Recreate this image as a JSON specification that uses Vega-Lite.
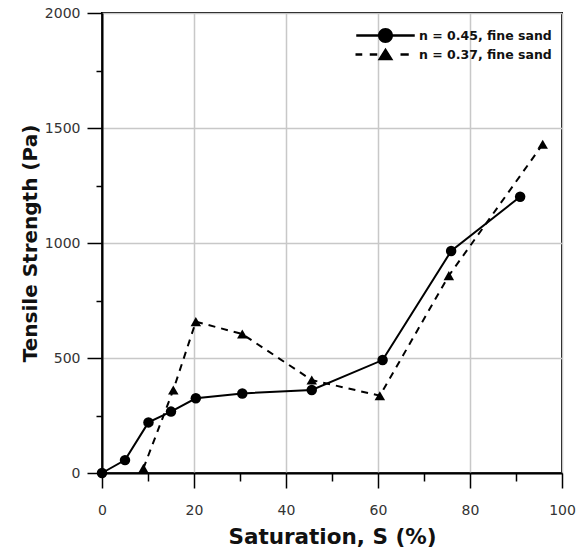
{
  "$schema": "https://vega.github.io/schema/vega-lite/v6.json",
  "autosize": {"type": "none"},
  "padding": {"left": 102, "top": 13, "right": 22, "bottom": 85},
  "width": 460,
  "height": 460,
  "background": "white",
  "config": {
    "view": {"stroke": "black", "strokeWidth": 2},
    "font": "DejaVu Sans"
  },
  "data": {
    "values": [
      {"S": 0, "T": 0, "series": "n = 0.45, fine sand"},
      {"S": 5, "T": 56, "series": "n = 0.45, fine sand"},
      {"S": 10.1, "T": 220, "series": "n = 0.45, fine sand"},
      {"S": 15, "T": 267, "series": "n = 0.45, fine sand"},
      {"S": 20.4, "T": 325, "series": "n = 0.45, fine sand"},
      {"S": 30.5, "T": 346, "series": "n = 0.45, fine sand"},
      {"S": 45.6, "T": 361, "series": "n = 0.45, fine sand"},
      {"S": 61, "T": 491, "series": "n = 0.45, fine sand"},
      {"S": 75.9, "T": 965, "series": "n = 0.45, fine sand"},
      {"S": 90.9, "T": 1201, "series": "n = 0.45, fine sand"},
      {"S": 9, "T": 20, "series": "n = 0.37, fine sand"},
      {"S": 15.5, "T": 361, "series": "n = 0.37, fine sand"},
      {"S": 20.4, "T": 658, "series": "n = 0.37, fine sand"},
      {"S": 30.5, "T": 604, "series": "n = 0.37, fine sand"},
      {"S": 45.6, "T": 404, "series": "n = 0.37, fine sand"},
      {"S": 60.4, "T": 336, "series": "n = 0.37, fine sand"},
      {"S": 75.4, "T": 858, "series": "n = 0.37, fine sand"},
      {"S": 95.8, "T": 1429, "series": "n = 0.37, fine sand"}
    ]
  },
  "encoding": {
    "x": {
      "field": "S", "type": "quantitative",
      "scale": {"domain": [0, 100], "nice": false, "zero": false},
      "axis": {
        "title": "Saturation, S (%)",
        "values": [0, 10, 20, 30, 40, 50, 60, 70, 80, 90, 100],
        "labelExpr": "datum.value % 20 === 0 ? datum.label : ''",
        "labelFlush": false,
        "labelFont": "DejaVu Sans", "labelFontSize": 14, "labelColor": "#333",
        "labelPadding": 15,
        "tickSize": {"condition": {"test": "datum.value % 20 === 0", "value": 15}, "value": 8},
        "tickColor": "black", "tickWidth": 1.5,
        "domainColor": "black", "domainWidth": 2,
        "grid": true,
        "gridColor": "#c8c8c8", "gridWidth": 1.5,
        "gridOpacity": {"condition": {"test": "datum.value % 20 === 0", "value": 1}, "value": 0},
        "titleFont": "DejaVu Sans", "titleFontSize": 21.5, "titleFontWeight": "bold", "titleColor": "#111",
        "titlePadding": 9
      }
    },
    "y": {
      "field": "T", "type": "quantitative",
      "scale": {"domain": [0, 2000], "nice": false},
      "axis": {
        "title": "Tensile Strength (Pa)",
        "values": [0, 250, 500, 750, 1000, 1250, 1500, 1750, 2000],
        "labelExpr": "datum.value % 500 === 0 ? datum.label : ''",
        "labelFlush": false,
        "format": "d",
        "labelFont": "DejaVu Sans", "labelFontSize": 14, "labelColor": "#333",
        "labelPadding": 7,
        "tickSize": {"condition": {"test": "datum.value % 500 === 0", "value": 15}, "value": 6},
        "tickColor": "black", "tickWidth": 1.5,
        "domainColor": "black", "domainWidth": 2,
        "grid": true,
        "gridColor": "#c8c8c8", "gridWidth": 1.5,
        "gridOpacity": {"condition": {"test": "datum.value % 500 === 0", "value": 1}, "value": 0},
        "titleFont": "DejaVu Sans", "titleFontSize": 20, "titleFontWeight": "bold", "titleColor": "#111",
        "titlePadding": 4
      }
    }
  },
  "layer": [
    {
      "transform": [{"filter": "datum.series === 'n = 0.45, fine sand'"}],
      "mark": {"type": "line", "color": "black", "strokeWidth": 2},
      "encoding": {}
    },
    {
      "transform": [{"filter": "datum.series === 'n = 0.37, fine sand'"}],
      "mark": {"type": "line", "color": "black", "strokeWidth": 2, "strokeDash": [7, 6]},
      "encoding": {}
    },
    {
      "transform": [{"filter": "datum.series === 'n = 0.45, fine sand'"}],
      "mark": {"type": "point", "shape": "circle", "filled": true, "color": "black", "opacity": 1, "size": 110},
      "encoding": {}
    },
    {
      "transform": [{"filter": "datum.series === 'n = 0.37, fine sand'"}],
      "mark": {"type": "point", "shape": "triangle-up", "filled": true, "color": "black", "opacity": 1, "size": 110},
      "encoding": {}
    },
    {
      "transform": [{"filter": "false"}],
      "mark": {"type": "point", "filled": true, "color": "black", "opacity": 1},
      "encoding": {
        "shape": {
          "field": "series", "type": "nominal",
          "scale": {
            "domain": ["n = 0.45, fine sand", "n = 0.37, fine sand"],
            "range": [
              "M-3.9,-0.17L-0.9,-0.17L-0.9,0.17L-3.9,0.17ZM0.9,-0.17L3.9,-0.17L3.9,0.17L0.9,0.17ZM-1,0A1,1 0 1,1 1,0A1,1 0 1,1 -1,0Z",
              "M-4,-0.17L-3.1,-0.17L-3.1,0.17L-4,0.17ZM-2.1,-0.17L-1.1,-0.17L-1.1,0.17L-2.1,0.17ZM2,-0.17L3.1,-0.17L3.1,0.17L2,0.17ZM0,-0.9L1.05,0.75L-1.05,0.75Z"
            ]
          },
          "legend": {
            "title": null,
            "orient": "none",
            "legendX": 275,
            "legendY": 14,
            "padding": 0,
            "symbolSize": 225,
            "symbolFillColor": "black",
            "labelFont": "DejaVu Sans",
            "labelFontSize": 12.5,
            "labelFontWeight": "bold",
            "labelColor": "#111",
            "labelOffset": 25,
            "rowPadding": -3,
            "encode": {
              "symbols": {
                "fill": {"value": "black"}
              }
            }
          }
        }
      }
    }
  ]
}
